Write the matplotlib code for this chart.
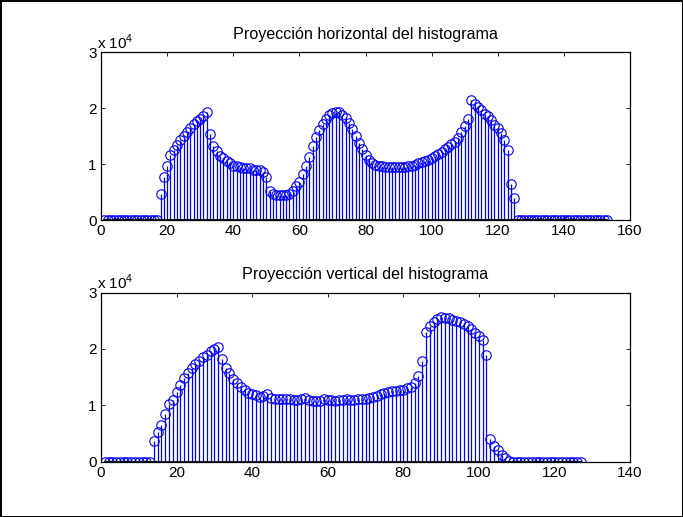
import numpy as np
import matplotlib
matplotlib.use("Agg")
import matplotlib.pyplot as plt

plt.rcParams['font.family'] = ['Liberation Sans', 'DejaVu Sans']
plt.rcParams['mathtext.fontset'] = 'custom'
plt.rcParams['mathtext.rm'] = 'Liberation Sans'

# Data (values in units of 10^4)
horiz_title = "Proyección horizontal del histograma"
vert_title = "Proyección vertical del histograma"

horiz_values = (
    [0.0] * 17 +
    [0.47, 0.77, 0.97, 1.16, 1.25, 1.34, 1.43, 1.50, 1.57, 1.64, 1.71, 1.76, 1.80, 1.85, 1.92,
     1.53, 1.32, 1.23, 1.15, 1.10, 1.06, 1.01, 0.97, 0.97, 0.95, 0.93, 0.93, 0.92, 0.90, 0.89,
     0.89, 0.86, 0.76, 0.52, 0.46, 0.45, 0.45, 0.45, 0.45, 0.46, 0.52, 0.60, 0.68, 0.82, 0.96,
     1.13, 1.33, 1.49, 1.61, 1.72, 1.81, 1.87, 1.91, 1.93, 1.92, 1.88, 1.82, 1.74, 1.63, 1.50,
     1.38, 1.26, 1.16, 1.08, 1.02, 0.99, 0.97, 0.96, 0.95, 0.95, 0.94, 0.94, 0.94, 0.94, 0.95,
     0.96, 0.97, 0.99, 1.01, 1.03, 1.05, 1.07, 1.10, 1.14, 1.18, 1.22, 1.26, 1.30, 1.35, 1.40,
     1.47, 1.58, 1.68, 1.80, 2.14, 2.08, 2.02, 1.96, 1.90, 1.85, 1.79, 1.70, 1.64, 1.55, 1.43,
     1.25, 0.64, 0.39] +
    [0.0] * 28
)

vert_values = (
    [0.0] * 13 +
    [0.36, 0.53, 0.65, 0.85, 1.02, 1.10, 1.24, 1.36, 1.48, 1.58, 1.66, 1.73, 1.79, 1.85, 1.90,
     1.96, 2.00, 2.04,
     1.82, 1.67, 1.58, 1.46, 1.39, 1.32, 1.27, 1.22, 1.20, 1.18, 1.15, 1.17, 1.20, 1.13,
     1.12, 1.12, 1.11, 1.11, 1.12, 1.10, 1.10, 1.12, 1.13, 1.10, 1.08, 1.07, 1.08, 1.11, 1.10,
     1.10, 1.08, 1.09, 1.10, 1.12, 1.10, 1.10, 1.11, 1.12, 1.11, 1.13, 1.15, 1.17, 1.20, 1.22,
     1.24, 1.25, 1.26, 1.27,
     1.28, 1.30, 1.33, 1.40, 1.52, 1.78,
     2.30, 2.40, 2.47, 2.53, 2.56, 2.55, 2.54, 2.52, 2.50, 2.47, 2.44, 2.40, 2.35, 2.29, 2.22,
     2.15, 1.89, 0.41, 0.28, 0.20, 0.12, 0.06, 0.02] +
    [0.0] * 19
)

horiz_xticks = [0, 20, 40, 60, 80, 100, 120, 140, 160]
vert_xticks = [0, 20, 40, 60, 80, 100, 120, 140]
yticks = [0, 1, 2, 3]

fig = plt.figure(figsize=(6.83, 5.17), dpi=100)
fig.patch.set_facecolor('white')
fig.patch.set_edgecolor('black')
fig.patch.set_linewidth(1.0)

W, H = 683, 517
def pos(l, r, t, b):
    return [l / W, 1 - b / H, (r - l) / W, (b - t) / H]

ax1 = fig.add_axes(pos(101, 630, 52, 220))
ax2 = fig.add_axes(pos(101, 630, 292.5, 461.7))

FS = 11

def draw(ax, values, xticks, title):
    x = np.arange(1, len(values) + 1)
    ml, sl, bl = ax.stem(x, values, linefmt='b-', markerfmt='bo', basefmt='k-')
    plt.setp(sl, linewidth=0.9, color=(0, 0, 1))
    plt.setp(ml, markersize=6.8, markerfacecolor='none', markeredgecolor=(0, 0, 1),
             markeredgewidth=0.8)
    plt.setp(bl, linewidth=1.3, color='black')
    ax.set_xlim(xticks[0], xticks[-1])
    ax.set_ylim(0, 3)
    ax.set_xticks(xticks)
    ax.set_yticks(yticks)
    ax.set_yticklabels([str(v) for v in yticks])
    ax.tick_params(direction='in', top=True, right=True, length=3, width=0.6,
                   labelsize=FS, pad=3)
    for s in ax.spines.values():
        s.set_linewidth(0.9)
    ax.set_title(title, fontsize=11.6, pad=9.5)
    ax.text(-0.007, 1.0, r'x 10$^4$', transform=ax.transAxes, ha='left', va='bottom',
            fontsize=FS)

draw(ax1, horiz_values, horiz_xticks, horiz_title)
draw(ax2, vert_values, vert_xticks, vert_title)

fig.savefig('out.png', dpi=100, facecolor=fig.get_facecolor(), edgecolor=fig.get_edgecolor())
